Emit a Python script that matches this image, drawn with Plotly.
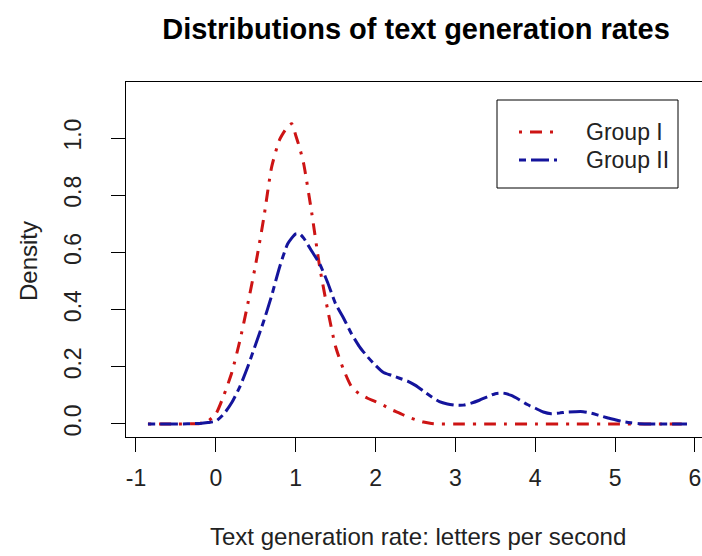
import plotly.graph_objects as go

# ---- data ----
x_group1 = [-0.85, -0.5, -0.2, -0.1, 0.0, 0.1, 0.2, 0.3, 0.4, 0.5, 0.6, 0.7, 0.8, 0.9, 0.95,
            1.0, 1.05, 1.1, 1.2, 1.3, 1.4, 1.5, 1.6, 1.7, 1.8, 1.9, 2.0, 2.1, 2.2, 2.3, 2.4,
            2.5, 2.6, 2.7, 2.8, 3.0, 3.5, 4.0, 4.5, 5.0, 5.5, 5.9]
y_group1 = [0.0, 0.0, 0.002, 0.01, 0.035, 0.1, 0.18, 0.29, 0.42, 0.56, 0.72, 0.9, 0.995, 1.04, 1.05,
            1.01, 0.965, 0.91, 0.74, 0.55, 0.40, 0.27, 0.19, 0.13, 0.105, 0.09, 0.078, 0.065, 0.05, 0.038, 0.025,
            0.015, 0.007, 0.002, 0.0, 0.0, 0.0, 0.0, 0.0, 0.0, 0.0, 0.0]

x_group2 = [-0.85, -0.5, -0.2, -0.1, 0.0, 0.1, 0.2, 0.3, 0.4, 0.5, 0.6, 0.7, 0.8, 0.9, 1.0,
            1.05, 1.1, 1.2, 1.3, 1.4, 1.5, 1.6, 1.7, 1.8, 1.9, 2.0, 2.1, 2.2, 2.3, 2.4,
            2.5, 2.6, 2.7, 2.8, 2.9, 3.0, 3.1, 3.2, 3.3, 3.4, 3.5, 3.6, 3.7, 3.8, 3.9,
            4.0, 4.1, 4.2, 4.3, 4.4, 4.5, 4.6, 4.7, 4.8, 4.9, 5.0, 5.1, 5.2, 5.3, 5.5, 5.9]
y_group2 = [0.0, 0.0, 0.002, 0.005, 0.01, 0.035, 0.075, 0.13, 0.2, 0.28, 0.36, 0.45, 0.55, 0.63, 0.665,
            0.665, 0.65, 0.605, 0.56, 0.495, 0.42, 0.37, 0.315, 0.27, 0.235, 0.205, 0.18, 0.17, 0.16, 0.15,
            0.135, 0.115, 0.095, 0.078, 0.07, 0.066, 0.066, 0.073, 0.083, 0.095, 0.106, 0.108, 0.1, 0.085, 0.068,
            0.055, 0.042, 0.036, 0.038, 0.042, 0.043, 0.043, 0.038, 0.03, 0.022, 0.015, 0.008, 0.004, 0.001, 0.0, 0.0]

series_names = ["Group I", "Group II"]
x_ticks = [-1, 0, 1, 2, 3, 4, 5, 6]
y_ticks = [0.0, 0.2, 0.4, 0.6, 0.8, 1.0]
y_tick_labels = ["0.0", "0.2", "0.4", "0.6", "0.8", "1.0"]

title_text = "Distributions of text generation rates"
x_title = "Text generation rate: letters per second"
y_title = "Density"

# ---- styles ----
RED = "#CD1414"
BLUE = "#14149C"
RED_DASH = "3px,8px,12px,8px"
BLUE_DASH = "7px,5px,18px,5px"
FONT = "Liberation Sans, Arial, sans-serif"
TXT = "#222222"

fig = go.Figure()
fig.add_trace(go.Scatter(x=x_group1, y=y_group1, mode="lines", name=series_names[0],
                         line=dict(color=RED, width=3, dash=RED_DASH, shape="spline", smoothing=0.6),
                         showlegend=False))
fig.add_trace(go.Scatter(x=x_group2, y=y_group2, mode="lines", name=series_names[1],
                         line=dict(color=BLUE, width=3, dash=BLUE_DASH, shape="spline", smoothing=0.6),
                         showlegend=False))

W, H = 702, 556
L, R, T, B = 126, 0, 82, 119
pw, ph = W - L - R, H - T - B

def px_x(p):
    return (p - L) / pw

def px_y(p):
    return (H - B - p) / ph

# manual legend (box, line samples, labels)
shapes = [dict(type="rect", xref="paper", yref="paper",
               x0=px_x(497), x1=px_x(678), y0=px_y(188), y1=px_y(100),
               line=dict(color="black", width=1), fillcolor="white", layer="above")]
for name, col, dash, yy in [(series_names[0], RED, RED_DASH, 132), (series_names[1], BLUE, BLUE_DASH, 160)]:
    shapes.append(dict(type="line", xref="paper", yref="paper",
                       x0=px_x(519), x1=px_x(557), y0=px_y(yy), y1=px_y(yy),
                       line=dict(color=col, width=3, dash=dash), layer="above"))

annotations = []
for name, yy in [(series_names[0], 132), (series_names[1], 160)]:
    annotations.append(dict(text=name, xref="paper", yref="paper", x=px_x(584), y=px_y(yy),
                            xanchor="left", yanchor="middle", showarrow=False,
                            font=dict(family=FONT, size=23, color=TXT)))

# axis titles as annotations for precise placement
annotations.append(dict(text=x_title, xref="paper", yref="paper", x=px_x(418), y=px_y(536),
                        xanchor="center", yanchor="middle", showarrow=False,
                        font=dict(family=FONT, size=24, color=TXT)))
annotations.append(dict(text=y_title, xref="paper", yref="paper", x=px_x(28), y=px_y(261),
                        xanchor="center", yanchor="middle", showarrow=False, textangle=-90,
                        font=dict(family=FONT, size=24, color=TXT)))

fig.update_layout(
    width=W, height=H,
    margin=dict(l=L, r=R, t=T, b=B, pad=0),
    paper_bgcolor="white", plot_bgcolor="white",
    title=dict(text=title_text, xref="container", yref="container",
               x=416 / W, y=1 - 29 / H, xanchor="center", yanchor="middle",
               font=dict(family=FONT, size=29, color="black", weight="bold")),
    shapes=shapes,
    annotations=annotations,
    showlegend=False,
)

fig.update_xaxes(
    range=[-1.125, 6.088], tickvals=x_ticks, ticktext=[str(v) for v in x_ticks],
    showgrid=False, zeroline=False, showline=True, mirror=True, linecolor="black", linewidth=1,
    ticks="outside", ticklen=14, tickwidth=1, tickcolor="black",
    tickfont=dict(family=FONT, size=23, color=TXT), ticklabelstandoff=6,
)
fig.update_yaxes(
    range=[-0.0455, 1.196], tickvals=y_ticks, ticktext=y_tick_labels, tickangle=-90,
    showgrid=False, zeroline=False, showline=True, mirror=False, linecolor="black", linewidth=1,
    ticks="outside", ticklen=14, tickwidth=1, tickcolor="black",
    tickfont=dict(family=FONT, size=23, color=TXT), ticklabelstandoff=21,
)

fig.write_html("out.html")
